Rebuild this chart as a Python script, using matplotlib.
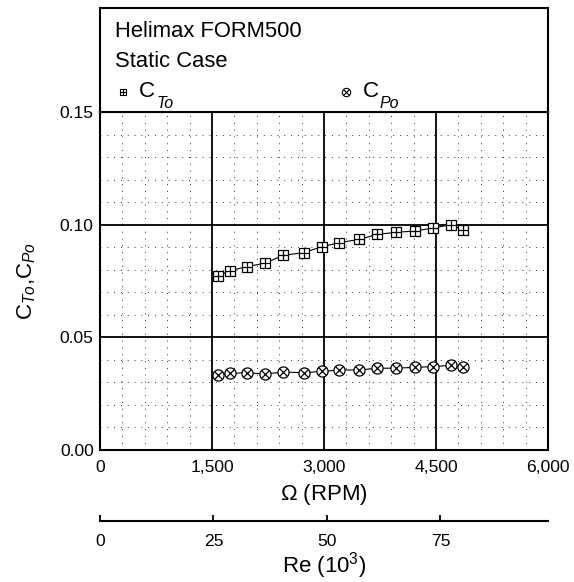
import matplotlib
matplotlib.use("Agg")
import matplotlib.pyplot as plt
from matplotlib.ticker import FixedLocator, FuncFormatter, MultipleLocator

plt.rcParams["font.family"] = ["Liberation Sans", "DejaVu Sans"]
plt.rcParams["mathtext.fontset"] = "custom"
plt.rcParams["mathtext.rm"] = "Liberation Sans"
plt.rcParams["mathtext.it"] = "Liberation Sans:italic"
plt.rcParams["mathtext.bf"] = "Liberation Sans:bold"

# Rotor speed (RPM) and static thrust / power coefficients
rpm = [1575, 1740, 1975, 2205, 2455, 2730, 2970, 3205, 3475, 3715,
       3965, 4225, 4455, 4705, 4865]
ct = [0.0772, 0.0796, 0.0814, 0.0829, 0.0864, 0.0876, 0.0902, 0.0920,
      0.0935, 0.0957, 0.0966, 0.0972, 0.0985, 0.1000, 0.0976]
cp = [0.0333, 0.0340, 0.0343, 0.0337, 0.0346, 0.0343, 0.0349, 0.0355,
      0.0355, 0.0363, 0.0363, 0.0367, 0.0370, 0.0376, 0.0370]

x_ticks = [0, 1500, 3000, 4500, 6000]
y_ticks = [0.00, 0.05, 0.10, 0.15]
re_ticks = [0, 25, 50, 75]
RE_PER_RPM = 75 / 4560.0   # Reynolds number (10^3) per RPM

title_lines = ["Helimax FORM500", "Static Case"]

W, H = 574, 582
fig = plt.figure(figsize=(W / 100, H / 100), dpi=100)

L, R = 100, 548
T_plot, B_plot = 112, 450
T_head = 8

ax = fig.add_axes([L / W, 1 - B_plot / H, (R - L) / W, (B_plot - T_plot) / H])
hx = fig.add_axes([L / W, 1 - T_plot / H, (R - L) / W, (T_plot - T_head) / H])

# --- main plot ---------------------------------------------------------
ax.set_xlim(0, 6000)
ax.set_ylim(0, 0.15)
ax.xaxis.set_major_locator(FixedLocator(x_ticks))
ax.yaxis.set_major_locator(FixedLocator(y_ticks))
ax.xaxis.set_minor_locator(MultipleLocator(300))
ax.yaxis.set_minor_locator(MultipleLocator(0.01))
ax.xaxis.set_major_formatter(FuncFormatter(lambda v, p: f"{int(v):,}"))
ax.yaxis.set_major_formatter(FuncFormatter(lambda v, p: f"{v:.2f}"))

ax.grid(which="major", color="black", lw=1.3, ls="-")
ax.grid(which="minor", color="#333333", lw=0.7, ls=(0, (1, 6)))
ax.set_axisbelow(True)

ax.tick_params(which="both", length=0)
ax.tick_params(axis="x", which="major", pad=7.5, labelsize=12.6)
ax.tick_params(axis="y", which="major", pad=4.5, labelsize=12.6)
for s in ax.spines.values():
    s.set_linewidth(1.5)

ax.plot(rpm, ct, color="black", lw=0.8, marker="s", ms=7,
        mfc="white", mec="black", mew=0.9, zorder=3)
ax.plot(rpm, ct, ls="none", marker="+", ms=7, color="black",
        mew=0.9, zorder=4)
ax.plot(rpm, cp, color="black", lw=0.8, marker="o", ms=8,
        mfc="white", mec="black", mew=0.9, zorder=3)
ax.plot(rpm, cp, ls="none", marker="x", ms=5.6, color="black",
        mew=0.9, zorder=4)

ax.set_xlabel(r"$\Omega$ (RPM)", fontsize=16, labelpad=5)
ax.set_ylabel(r"C$_{\mathit{To}}$,C$_{\mathit{Po}}$", fontsize=16,
              labelpad=16)

# Reynolds-number axis below
sec = ax.secondary_xaxis(-0.209, functions=(lambda r: r * RE_PER_RPM,
                                            lambda re: re / RE_PER_RPM))
sec.xaxis.set_major_locator(FixedLocator(re_ticks))
sec.tick_params(direction="in", length=4, width=1.3, pad=9.5, labelsize=12.6)
sec.spines["bottom"].set_linewidth(1.5)
sec.set_xlabel(r"Re (10$^{\mathrm{3}}$)", fontsize=16, labelpad=1)

# --- header box --------------------------------------------------------
hx.set_xlim(0, R - L)
hx.set_ylim(T_plot - T_head, 0)
hx.set_xticks([])
hx.set_yticks([])
for s in hx.spines.values():
    s.set_linewidth(1.5)

hx.text(15, 28.7, title_lines[0], fontsize=15.8, va="baseline", ha="left")
hx.text(15, 58.7, title_lines[1], fontsize=15.8, va="baseline", ha="left")

# legend entries: symbol, "C" and a dropped italic subscript
hx.plot([23], [84.3], marker="s", ms=5, mfc="white", mec="black", mew=0.8)
hx.plot([23], [84.3], marker="+", ms=5, color="black", mew=0.8)
hx.text(39, 88.7, "C", fontsize=16, va="baseline", ha="left")
hx.text(57, 99.5, "To", fontsize=11.5, style="italic",
        va="baseline", ha="left")

hx.plot([245.7], [84.3], marker="o", ms=6, mfc="white", mec="black", mew=0.8)
hx.plot([245.7], [84.3], marker="x", ms=4.2, color="black", mew=0.8)
hx.text(263, 88.7, "C", fontsize=16, va="baseline", ha="left")
hx.text(280, 99.5, "Po", fontsize=11.5, style="italic",
        va="baseline", ha="left")

fig.savefig("out.png", dpi=100)
